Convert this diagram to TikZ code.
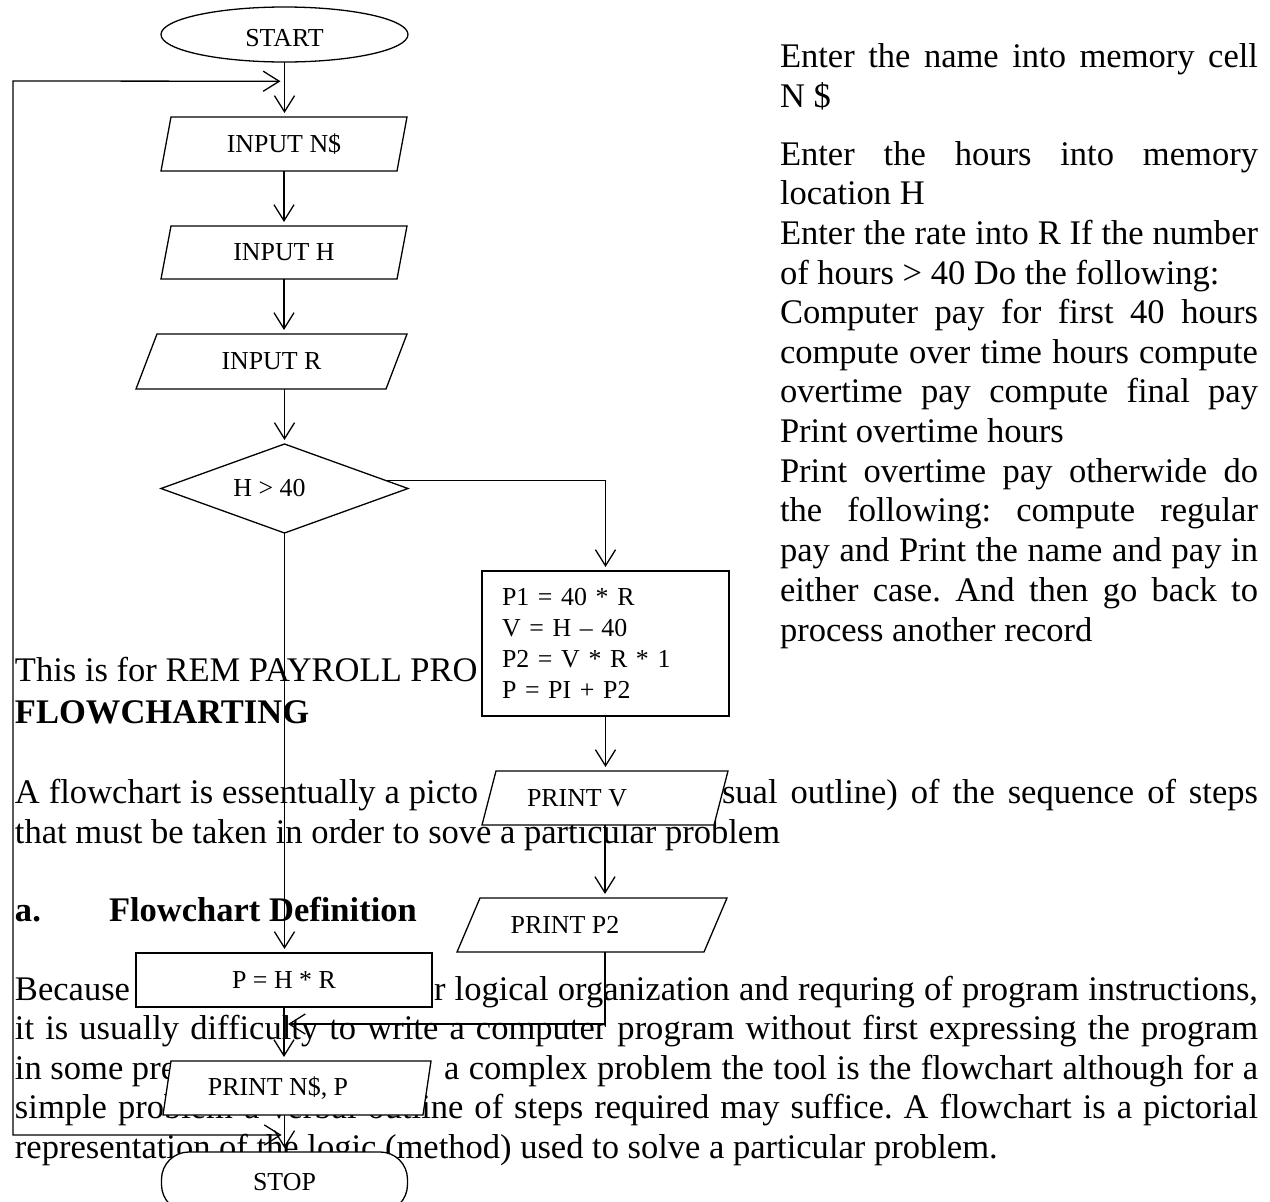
\documentclass[tikz,border=0pt]{standalone}
\usepackage{fontspec}
\setmainfont{Liberation Serif}
\usetikzlibrary{arrows.meta,shapes.geometric,calc}
\frenchspacing
\newdimen\px
\px=0.3476pt
% parallelogram (input/output) box: name, centre x, centre y, width, height, slant, text x-offset, text
\newcommand\iobox[8]{%
  \filldraw[fill=white] ({#2-#4/2+#6},{#3-#5/2}) -- ({#2+#4/2},{#3-#5/2})
    -- ({#2+#4/2-#6},{#3+#5/2}) -- ({#2-#4/2},{#3+#5/2}) -- cycle;
  \node[frame, minimum width=#4*\px, minimum height=#5*\px] (#1) at (#2,#3) {};
  \node[lbl] (#1-txt) at ({#2+#7},#3) {#8};
}
\begin{document}
\begin{tikzpicture}[x=\px, y=-\px, line width=0.45pt,
  body/.style={inner sep=0pt, outer sep=0pt, anchor=base west, font=\fontsize{12}{13.8}\selectfont},
  bodyr/.style={body, anchor=base east},
  bold/.style={body, font=\fontsize{12}{13.8}\selectfont\bfseries},
  lbl/.style={inner sep=0pt, font=\fontsize{9}{10.7}\selectfont},
  frame/.style={rectangle, draw=none, inner sep=0pt, outer sep=0pt},
  fshape/.style={draw, fill=white, inner sep=0pt, outer sep=0pt, lbl},
  flow/.style={-{Straight Barb[length=5.6pt,width=7pt]}, shorten >=1.4pt},
]
\useasboundingbox (0,0) rectangle (1270,1202);
\clip (0,0) rectangle (1270,1202);
\fill[white] (0,0) rectangle (1270,1202);

% ---- notes column on the right ----
\node[body] (r01) at (780,67)  {\makebox[478\px][s]{Enter the name into memory cell}};
\node[body] (r02) at (780,107) {N \$};
\node[body] (r03) at (780,165) {\makebox[478\px][s]{Enter the hours into memory}};
\node[body] (r04) at (780,204) {location H};
\node[body] (r05) at (780,244) {\makebox[478\px][s]{Enter the rate into R If the number}};
\node[body] (r06) at (780,284) {of hours > 40 Do the following:};
\node[body] (r07) at (780,323) {\makebox[478\px][s]{Computer pay for first 40 hours}};
\node[body] (r08) at (780,363) {\makebox[478\px][s]{compute over time hours compute}};
\node[body] (r09) at (780,402) {\makebox[478\px][s]{overtime pay compute final pay}};
\node[body] (r10) at (780,442) {Print overtime hours};
\node[body] (r11) at (780,482) {\makebox[478\px][s]{Print overtime pay otherwide do}};
\node[body] (r12) at (780,521) {\makebox[478\px][s]{the following: compute regular}};
\node[body] (r13) at (780,561) {\makebox[478\px][s]{pay and Print the name and pay in}};
\node[body] (r14) at (780,601) {\makebox[478\px][s]{either case. And then go back to}};
\node[body] (r15) at (780,641) {process another record};

% ---- running text on the left and below ----
\node[body] (b01) at (15,681) {This is for REM PAYROLL PRO};
\node[bold] (b02) at (15,723) {FLOWCHARTING};
\node[body] (b03a) at (15,803) {\makebox[463\px][s]{A flowchart is essentually a picto}};
\node[bodyr] (b03b) at (1258,803) {\makebox[536\px][s]{sual outline) of the sequence of steps}};
\node[body] (b04) at (15,843) {that must be taken in order to sove a particular problem};
\node[bold] (b05a) at (15,921) {a.};
\node[bold] (b05b) at (109,921) {Flowchart Definition};
\node[body] (b06a) at (15,1000) {Because};
\node[bodyr] (b06b) at (1258,1000) {\makebox[824\px][s]{r logical organization and requring of program instructions,}};
\node[body] (b07) at (15,1039) {\makebox[1243\px][s]{it is usually difficulty to write a computer program without first expressing the program}};
\node[body] (b08a) at (15,1079) {in some pre};
\node[bodyr] (b08b) at (1258,1079) {\makebox[814\px][s]{a complex problem the tool is the flowchart although for a}};
\node[body] (b09) at (15,1118) {\makebox[1243\px][s]{simple problem a verbal outline of steps required may suffice. A flowchart is a pictorial}};
\node[body] (b10) at (15,1158) {representation of the logic (method) used to solve a particular problem.};

% ---- flowchart symbols ----
\node[fshape, ellipse, minimum width=247*\px, minimum height=55*\px,
      label={[lbl, yshift=-4*\px]center:START}] (start) at (284.5,34.5) {};
\iobox{in1}{284}{144}{246}{54}{10}{0}{INPUT N\$}
\iobox{in2}{284}{252.5}{246}{53}{10}{0}{INPUT H}
\iobox{in3}{271.5}{361.5}{271}{55}{21}{0}{INPUT R}
\node[fshape, diamond, minimum width=247*\px, minimum height=89*\px,
      label={[lbl, xshift=-15*\px]center:H > 40}] (dia) at (284.5,488.5) {};
\node[fshape, rectangle, minimum width=247*\px, minimum height=145*\px,
      text width=207*\px, inner xsep=20*\px, align=left] (proc) at (605.5,643.5)
      {P1 = 40 * R\\V = H – 40\\P2 = V * R * 1\\P = PI + P2};
\iobox{pv}{605}{798}{246}{54}{14}{-28}{PRINT V}
\iobox{pp2}{592}{925}{270}{54}{23}{-27}{PRINT P2}
\node[fshape, rectangle, minimum width=296*\px, minimum height=54*\px] (phr) at (284,980) {P = H * R};
\iobox{pn}{297}{1088}{268}{54}{8}{-19}{PRINT N\$, P}
\node[fshape, rectangle, rounded corners=9.5pt, minimum width=246*\px, minimum height=60*\px] (stop) at (284.5,1182) {STOP};

% ---- connectors ----
\draw[flow] (start.south) -- (start.south |- in1.north);
\draw[flow] (in1.south) -- (in1.south |- in2.north);
\draw[flow] (in2.south) -- (in2.south |- in3.north);
\draw[flow] (dia.north |- in3.south) -- (dia.north);
\draw[flow] ($(dia.north)!0.82!(dia.east)$) -| (proc.north);
\draw[flow] (proc.south) -- (proc.south |- pv.north);
\draw[flow] (pv.south) -- (pv.south |- pp2.north);
\draw[flow] (pv.south |- pp2.south) |- ($(phr.south)!0.315!(phr.south |- pn.north)$);
\draw[flow] (dia.south) -- (dia.south |- phr.north);
\draw[flow] (phr.south) -- (phr.south |- pn.north);
\draw[flow] (stop.north |- pn.south) -- (stop.north);
\coordinate (loopcorner) at (13,81);
\draw[{Straight Barb[length=5.6pt,width=7pt]}-{Straight Barb[length=5.6pt,width=7pt]}, shorten <=1pt, shorten >=1.4pt]
  ($(stop.north |- pn.south)!0.54!(stop.north)$) -| (loopcorner)
  -- ($(start.south)!0.35!(start.south |- in1.north)$);
\end{tikzpicture}
\end{document}
